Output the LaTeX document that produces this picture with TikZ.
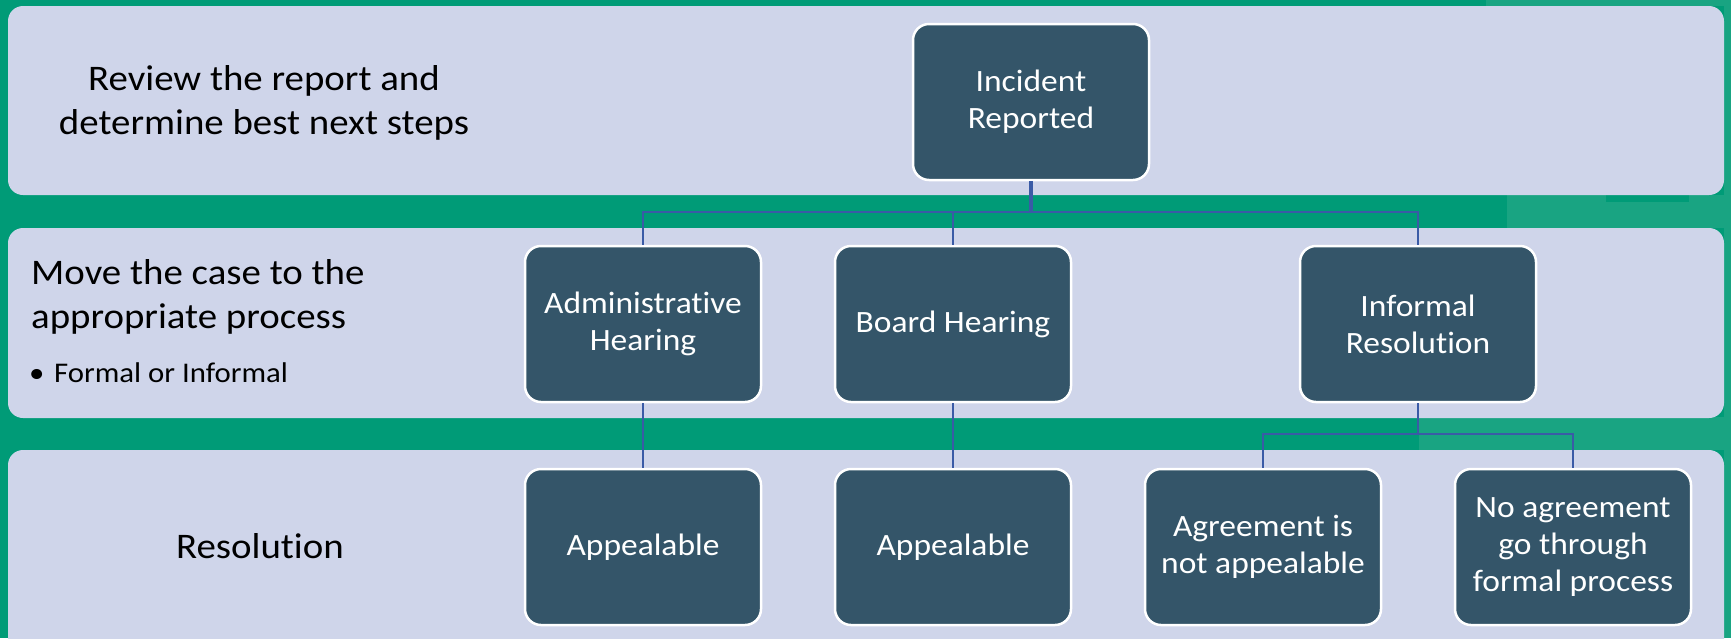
\documentclass[tikz,border=0pt]{standalone}
\usepackage{fontspec}
\setmainfont[FakeStretch=1.08, Ligatures={NoCommon}]{Carlito}
\definecolor{bggreen}{HTML}{009B77}
\definecolor{bglight}{HTML}{19A482}
\definecolor{bandfill}{HTML}{CFD5EA}
\definecolor{nodefill}{HTML}{345569}
\definecolor{connblue}{HTML}{3A5BA6}
\tikzset{
  band/.style={fill=bandfill, rounded corners=15pt},
  stepbox/.style={draw=white, line width=2.5pt, fill=nodefill, rounded corners=16pt,
    minimum width=236pt, minimum height=156pt, inner sep=0pt, text=white,
    align=center, font=\fontsize{31}{37}\selectfont},
  conn/.style={draw=connblue, line width=2.5pt},
  connthick/.style={draw=connblue, line width=4pt},
  lefttext/.style={text=black, inner sep=0pt, font=\fontsize{36}{44}\selectfont},
  smalltext/.style={text=black, inner sep=0pt, font=\fontsize{28.5}{34}\selectfont}
}
\begin{document}
\begin{tikzpicture}[x=1pt,y=-1pt]
\useasboundingbox (0,0) rectangle (1731,638);
\clip (0,0) rectangle (1731,638);
% background
\fill[bggreen] (0,0) rectangle (1731,638);
\fill[bglight] (1486,0) rectangle (1731,6);
\fill[bglight] (1507,195) rectangle (1731,228);
\fill[bglight] (1419,417) rectangle (1731,450);
\fill[bglight] (1724,0) rectangle (1731,638);
\fill[bggreen] (1606,195) rectangle (1689,202);
% bands
\fill[band] (8,6) rectangle (1724,195);
\fill[band] (8,228) rectangle (1724,418);
\fill[band] (8,450) rectangle (1724,680);
% left texts (base = last line)
\node[lefttext, anchor=base, align=center] (t1) at (264,134) {Review the report and\\determine best next steps};
\node[lefttext, anchor=base west, align=left] (t2) at (31,328) {Move the case to the\\appropriate process};
\node[smalltext, anchor=base west] (t3) at (29,382) {\makebox[25pt][l]{•}Formal or Informal};
\node[lefttext, anchor=base] (t4) at (260,558) {Resolution};
% nodes
\node[stepbox] (inc) at (1031,102) {Incident\\Reported};
\node[stepbox] (adm) at (643,324) {Administrative\\Hearing};
\node[stepbox] (brd) at (953,324) {Board Hearing};
\node[stepbox] (inf) at (1418,324) {Informal\\Resolution};
\node[stepbox] (ap1) at (643,547) {Appealable};
\node[stepbox] (ap2) at (953,547) {Appealable};
\node[stepbox] (agr) at (1263,547) {Agreement is\\not appealable};
\node[stepbox] (noa) at (1573,547) {No agreement\\go through\\formal process};
% connectors
\coordinate (j1) at (1031,212);
\coordinate (j2) at (1418,434);
\draw[connthick] (inc.south) -- (j1);
\draw[conn] (adm.north) |- (j1) -| (inf.north);
\draw[conn] (brd.north) -- (brd.north |- j1);
\draw[conn] (adm.south) -- (ap1.north);
\draw[conn] (brd.south) -- (ap2.north);
\draw[conn] (inf.south) -- (j2);
\draw[conn] (agr.north) |- (j2) -| (noa.north);
\end{tikzpicture}
\end{document}
